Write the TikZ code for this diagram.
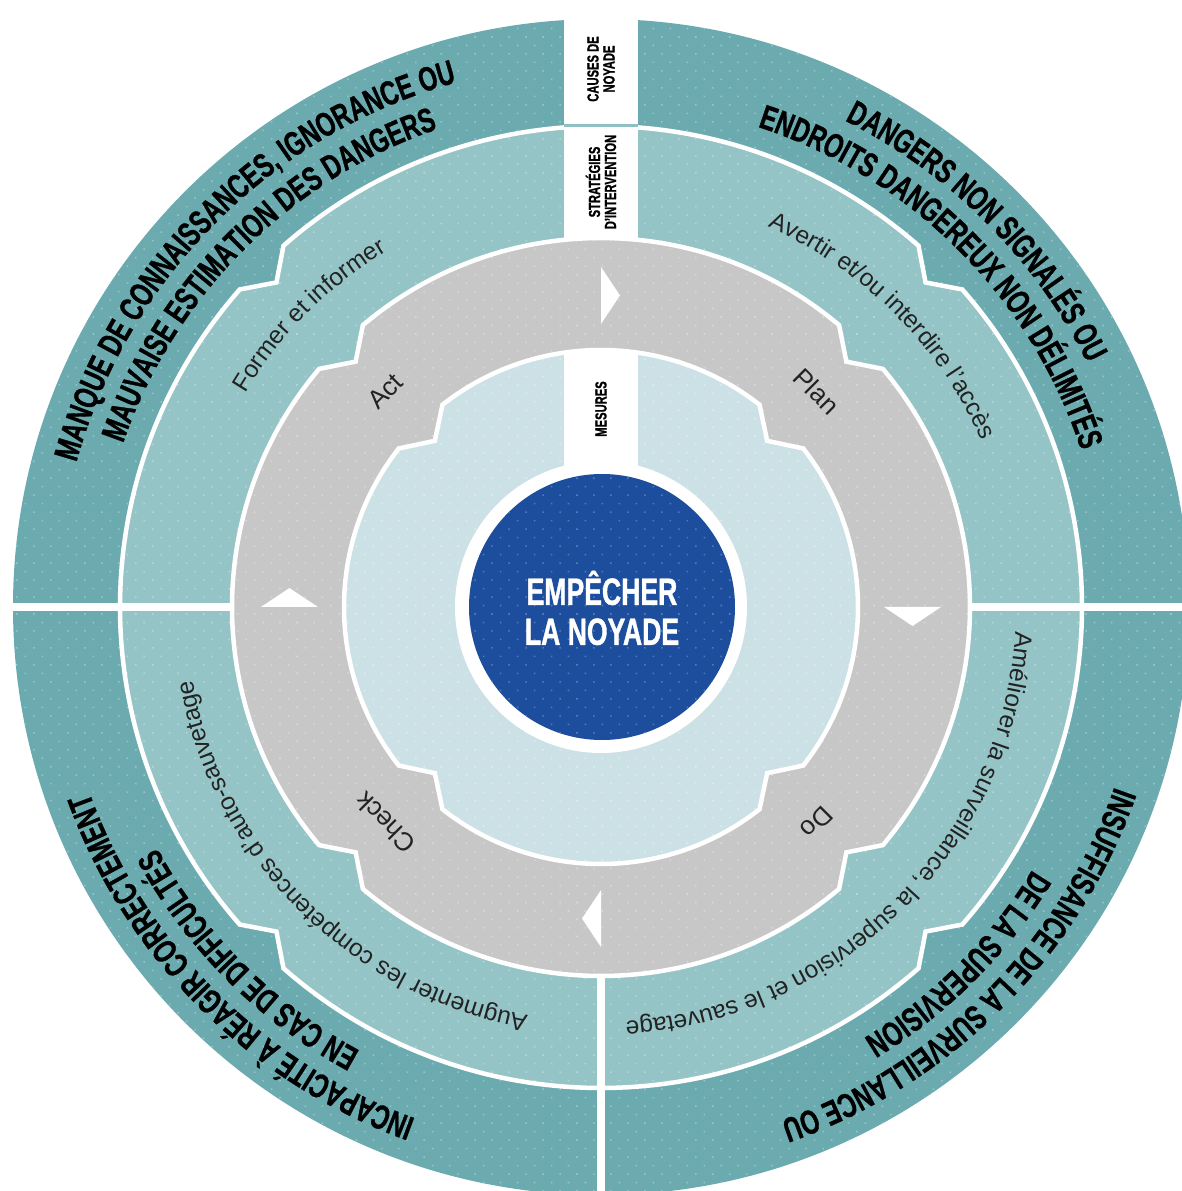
\documentclass[tikz,border=0pt]{standalone}
\usepackage{fontspec}
\usetikzlibrary{decorations.text,patterns.meta}
\newfontfamily\condb[FakeStretch=0.7, BoldFeatures={FakeBold=1}]{Liberation Sans}
\newfontfamily\plainf{Liberation Sans}
\newcommand{\causefont}{\condb\bfseries\fontsize{34pt}{34pt}\selectfont}
\newcommand{\stratfont}{\plainf\fontsize{24.5pt}{24.5pt}\selectfont}
\newcommand{\pdcafont}{\plainf\fontsize{26pt}{26pt}\selectfont}
\newcommand{\labfont}{\condb\bfseries\fontsize{16pt}{16pt}\selectfont}
\newcommand{\centerfont}{\condb\bfseries\fontsize{38pt}{40pt}\selectfont}
\definecolor{outerc}{HTML}{6BABB0}
\definecolor{stratc}{HTML}{95C4C7}
\definecolor{grayc}{HTML}{C8C7C8}
\definecolor{innerc}{HTML}{CBE1E5}
\definecolor{bluec}{HTML}{1C4E9D}
\definecolor{txtc}{HTML}{222222}
\newcommand{\cogpath}[3]{%
 (45+#3:#1) arc[start angle=45+#3, end angle=135-#3, radius=#1] -- (135:#2)
 -- (135+#3:#1) arc[start angle=135+#3, end angle=225-#3, radius=#1] -- (225:#2)
 -- (225+#3:#1) arc[start angle=225+#3, end angle=315-#3, radius=#1] -- (315:#2)
 -- (315+#3:#1) arc[start angle=315+#3, end angle=405-#3, radius=#1] -- (45:#2) -- cycle}
\tikzset{
  dotpat/.style={pattern={Dots[distance=12pt,angle=45,radius=1.1pt]}, pattern color=#1},
  ringline/.style={draw=white, line width=4.5pt},
  divider/.style={draw=white, line width=8pt},
  arrowtri/.style={fill=white},
  pdca/.style={font=\pdcafont, text=txtc, inner sep=0pt},
  striplabel/.style={font=\labfont, text=black, align=center, rotate=90, inner sep=0pt}
}
\begin{document}
\begin{tikzpicture}
\clip (-601pt,-584pt) rectangle (581pt,607pt);
\fill[white] (-601pt,-584pt) rectangle (581pt,607pt);
% outer ring (causes)
\fill[outerc] (0,0) circle[radius=588pt];
\path[dotpat=outerc!70!white] (0,0) circle[radius=588pt];
% strategies ring
\path[fill=stratc] \cogpath{481pt}{459pt}{3.69};
\path[dotpat=stratc!70!white] \cogpath{481pt}{459pt}{3.69};
% dividers
\draw[divider] (-592pt,0) -- (-300pt,0);
\draw[divider] (300pt,0) -- (592pt,0);
\draw[divider] (0,-592pt) -- (0,-300pt);
\begin{scope}
\clip (0,0) circle[radius=592pt];
\fill[white] (-37pt,300pt) rectangle (37pt,600pt);
\end{scope}
\path[ringline] \cogpath{481pt}{459pt}{3.69};
\draw[stratc!85!outerc, line width=3pt] (-37pt,481pt) -- (37pt,481pt);
% PDCA ring
\path[fill=grayc] \cogpath{369pt}{347pt}{4.81};
\path[dotpat=grayc!70!white] \cogpath{369pt}{347pt}{4.81};
\path[ringline] \cogpath{369pt}{347pt}{4.81};
% measures disc
\path[fill=innerc] \cogpath{257pt}{235pt}{6.91};
\path[dotpat=innerc!60!white] \cogpath{257pt}{235pt}{6.91};
\path[ringline] \cogpath{257pt}{235pt}{6.91};
\fill[white] (-37pt,140pt) rectangle (37pt,255pt);
% centre
\fill[white] (0,0) circle[radius=146pt];
\fill[bluec] (1pt,0) circle[radius=133pt];
\path[dotpat=bluec!75!white] (1pt,0) circle[radius=133pt];
\node[text=white, align=center, font=\centerfont, inner sep=0pt] (goal) at (1pt,-1pt) {EMPÊCHER\\LA NOYADE};
% arrows in PDCA ring
\foreach \r in {0,-90,-180,-270}{
  \fill[arrowtri, rotate=\r] (0,283pt) -- (0,340pt) -- (19pt,311.5pt) -- cycle;
}
% strip labels
\node[striplabel] (causes) at (0,538pt) {CAUSES DE\\NOYADE};
\node[striplabel] (strat) at (0,425pt) {STRATÉGIES\\D’INTERVENTION};
\node[striplabel] (mesures) at (0,198pt) {MESURES};
% PDCA labels
\node[pdca, rotate=45] (act) at (135:305pt) {Act};
\node[pdca, rotate=-45] (plan) at (45:305pt) {Plan};
\node[pdca, rotate=-135] (do) at (-45:305pt) {Do};
\node[pdca, rotate=135] (check) at (-135:305pt) {Check};
% causes texts
\path[decorate, decoration={text along path, text align=center, text={|\causefont|MANQUE DE CONNAISSANCES, IGNORANCE OU}}] (180:544pt) arc[start angle=180, end angle=90, radius=544pt];
\path[decorate, decoration={text along path, text align=center, text={|\causefont|MAUVAISE ESTIMATION DES DANGERS}}] (180:505pt) arc[start angle=180, end angle=90, radius=505pt];
\path[decorate, decoration={text along path, text align=center, text={|\causefont|DANGERS NON SIGNALÉS OU}}] (90:544pt) arc[start angle=90, end angle=0, radius=544pt];
\path[decorate, decoration={text along path, text align=center, text={|\causefont|ENDROITS DANGEREUX NON DÉLIMITÉS}}] (90:505pt) arc[start angle=90, end angle=0, radius=505pt];
\path[decorate, decoration={text along path, text align=center, text={|\causefont|INSUFFISANCE DE LA SURVEILLANCE OU}}] (0:544pt) arc[start angle=0, end angle=-90, radius=544pt];
\path[decorate, decoration={text along path, text align=center, text={|\causefont|DE LA SUPERVISION}}] (0:505pt) arc[start angle=0, end angle=-90, radius=505pt];
\path[decorate, decoration={text along path, text align=center, text={|\causefont|INCAPACITÉ À RÉAGIR CORRECTEMENT}}] (-90:544pt) arc[start angle=-90, end angle=-180, radius=544pt];
\path[decorate, decoration={text along path, text align=center, text={|\causefont|EN CAS DE DIFFICULTÉS}}] (-90:505pt) arc[start angle=-90, end angle=-180, radius=505pt];
% strategy texts
\path[decorate, decoration={text along path, text align=center, text={|\stratfont\color{txtc}|Former et informer}}] (185:415pt) arc[start angle=185, end angle=85, radius=415pt];
\path[decorate, decoration={text along path, text align=center, text={|\stratfont\color{txtc}|Avertir et/ou interdire l’accès}}] (95:415pt) arc[start angle=95, end angle=-5, radius=415pt];
\path[decorate, decoration={text along path, text align=center, text={|\stratfont\color{txtc}|Améliorer la surveillance, la supervision et le sauvetage}}] (5:415pt) arc[start angle=5, end angle=-95, radius=415pt];
\path[decorate, decoration={text along path, text align=center, text={|\stratfont\color{txtc}|Augmenter les compétences d’auto-sauvetage}}] (-85:415pt) arc[start angle=-85, end angle=-185, radius=415pt];
\end{tikzpicture}
\end{document}
